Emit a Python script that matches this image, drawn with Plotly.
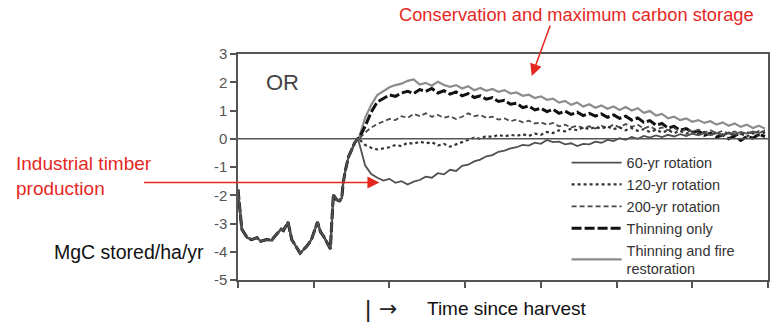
import plotly.graph_objects as go

# ---------------- data ----------------
# shared pre-harvest segment (years since start, MgC/ha/yr)
pre_years = [0, 4, 5, 12, 18, 25, 30, 38, 45, 47, 57, 60, 66, 71, 78, 82, 84, 91, 97,
             103, 105, 109, 113, 120, 122, 124, 126, 130, 134, 137, 139, 142, 146, 150, 154, 158]
pre_vals = [-1.8, -2.75, -3.2, -3.5, -3.57, -3.5, -3.63, -3.57, -3.6, -3.5, -3.2, -3.25, -2.95,
            -3.57, -3.85, -4.05, -4.0, -3.8, -3.57, -3.15, -2.95, -3.3, -3.45, -3.8, -3.9, -2.9,
            -1.98, -2.15, -2.2, -2.1, -1.55, -1.1, -0.63, -0.4, -0.15, 0.0]

post_years = list(range(160, 697, 8))

rot60 = [-0.15, -0.95, -1.25, -1.38, -1.48, -1.42, -1.56, -1.5, -1.62, -1.52, -1.46, -1.34,
         -1.38, -1.22, -1.26, -1.1, -1.14, -0.96, -0.92, -0.8, -0.74, -0.62, -0.58, -0.46,
         -0.42, -0.34, -0.3, -0.22, -0.24, -0.14, -0.18, -0.04, -0.12, -0.1, -0.2, -0.16,
         -0.26, -0.18, -0.2, -0.1, -0.14, -0.04, -0.08, 0.02, -0.04, 0.06, 0.0, 0.1, 0.04,
         0.12, 0.06, 0.14, 0.08, 0.16, 0.1, 0.18, 0.12, 0.2, 0.14, 0.2, 0.12, 0.22, 0.16,
         0.24, 0.18, 0.26, 0.2, 0.3]

rot120 = [-0.02, -0.22, -0.32, -0.38, -0.34, -0.3, -0.22, -0.26, -0.14, -0.18, -0.1, -0.16,
          -0.12, -0.24, -0.18, -0.28, -0.2, -0.12, -0.04, 0.04, 0.0, 0.1, 0.06, 0.14, 0.08,
          0.14, 0.1, 0.16, 0.1, 0.18, 0.14, 0.24, 0.2, 0.3, 0.26, 0.36, 0.3, 0.4, 0.34, 0.42,
          0.36, 0.44, 0.34, 0.4, 0.3, 0.38, 0.28, 0.34, 0.24, 0.32, 0.22, 0.3, 0.2, 0.28,
          0.18, 0.26, 0.16, 0.24, 0.14, 0.22, 0.12, 0.2, 0.1, 0.18, 0.08, 0.2, 0.12, 0.24]

rot200 = [0.0, 0.22, 0.4, 0.52, 0.62, 0.7, 0.66, 0.8, 0.74, 0.88, 0.8, 0.9, 0.78, 0.84,
          0.74, 0.8, 0.7, 0.78, 0.9, 0.8, 0.84, 0.74, 0.78, 0.68, 0.72, 0.62, 0.68, 0.58,
          0.64, 0.54, 0.58, 0.5, 0.56, 0.44, 0.5, 0.4, 0.46, 0.38, 0.44, 0.36, 0.46, 0.38,
          0.5, 0.4, 0.52, 0.42, 0.5, 0.36, 0.44, 0.32, 0.4, 0.3, 0.38, 0.26, 0.34, 0.24,
          0.32, 0.22, 0.3, 0.2, 0.28, 0.18, 0.26, 0.16, 0.24, 0.18, 0.28, 0.22]

thin_only = [0.02, 0.45, 0.95, 1.3, 1.42, 1.55, 1.5, 1.62, 1.68, 1.6, 1.74, 1.68, 1.78,
             1.62, 1.7, 1.58, 1.66, 1.52, 1.6, 1.46, 1.52, 1.4, 1.46, 1.32, 1.36, 1.22,
             1.26, 1.1, 1.16, 1.02, 1.08, 0.96, 1.04, 0.9, 0.98, 0.86, 0.94, 0.82, 0.9, 0.8,
             0.88, 0.76, 0.84, 0.72, 0.8, 0.66, 0.74, 0.58, 0.64, 0.48, 0.54, 0.38, 0.44,
             0.3, 0.36, 0.22, 0.28, 0.12, 0.2, 0.06, 0.14, 0.0, 0.1, -0.06, 0.08, 0.02, 0.16, 0.08]

thin_fire = [0.05, 0.75, 1.2, 1.55, 1.7, 1.82, 1.9, 1.95, 2.05, 2.1, 1.92, 1.98, 1.88,
             2.02, 1.9, 1.84, 1.9, 1.78, 1.86, 1.72, 1.8, 1.7, 1.76, 1.66, 1.72, 1.6, 1.64,
             1.52, 1.56, 1.44, 1.5, 1.38, 1.42, 1.28, 1.34, 1.2, 1.28, 1.14, 1.22, 1.1, 1.18,
             1.06, 1.14, 1.02, 1.12, 1.0, 1.08, 0.92, 0.98, 0.82, 0.88, 0.72, 0.78, 0.66,
             0.72, 0.6, 0.66, 0.56, 0.62, 0.5, 0.58, 0.46, 0.54, 0.42, 0.5, 0.38, 0.46, 0.36]

series_names = ["60-yr rotation", "120-yr rotation", "200-yr rotation",
                "Thinning only", "Thinning and fire<br>restoration"]
y_ticks = [3, 2, 1, 0, -1, -2, -3, -4, -5]
x_ticks = [0, 100, 200, 300, 400, 500, 600, 700]

# ---------------- figure ----------------
RED = "#e5281f"
FONT = "Liberation Sans, Arial, sans-serif"
xs = pre_years + post_years

styles = [
    # (values, name, color, width, dash, rank)
    (thin_fire, series_names[4], "#8c8c8c", 2.2, "solid", 5),
    (thin_only, series_names[3], "#111111", 3.0, "10px,3px", 4),
    (rot200, series_names[2], "#4a4a4a", 1.8, "5px,3px", 3),
    (rot120, series_names[1], "#333333", 2.2, "dot", 2),
    (rot60, series_names[0], "#505050", 1.8, "solid", 1),
]

fig = go.Figure()
for vals, name, color, width, dash, rank in styles:
    fig.add_trace(go.Scatter(
        x=xs, y=pre_vals + vals, mode="lines", name=name, legendrank=rank,
        line=dict(color=color, width=width, dash=dash),
    ))

axis_common = dict(showgrid=False, zeroline=False, showline=True, linecolor="#555555",
                   linewidth=1.5, mirror=True, ticks="outside", tickcolor="#555555",
                   ticklen=6, tickwidth=1.5)
fig.update_xaxes(range=[0, 700], tickvals=x_ticks, showticklabels=False, **axis_common)
fig.update_yaxes(range=[-5, 3], tickvals=y_ticks, ticktext=[str(v) for v in y_ticks],
                 tickfont=dict(family=FONT, size=15, color="#555555"), **axis_common)

# zero reference line
fig.add_hline(y=0, line=dict(color="#555555", width=1.5))

fig.update_layout(
    width=777, height=324,
    margin=dict(l=238, r=7, t=54, b=44),
    paper_bgcolor="white", plot_bgcolor="white",
    font=dict(family=FONT),
    showlegend=True,
    legend=dict(x=0.62, y=0.59, xanchor="left", yanchor="top",
                bgcolor="rgba(255,255,255,0)", borderwidth=0,
                font=dict(family=FONT, size=14.5, color="#333333"),
                itemwidth=50, tracegroupgap=0),
    annotations=[
        dict(text="OR", xref="paper", yref="paper", x=0.0846, y=0.8717,
             xanchor="center", yanchor="middle", showarrow=False,
             font=dict(family=FONT, size=22, color="#444444")),
        dict(text="Conservation and maximum carbon storage", xref="paper", yref="paper",
             x=0.2995, y=1.1726, xanchor="left", yanchor="middle", showarrow=False,
             font=dict(family=FONT, size=18.3, color=RED)),
        dict(text="", x=388, y=2.22, xref="x", yref="y", showarrow=True,
             ax=19, ay=-52, arrowhead=2, arrowsize=1.6, arrowwidth=1.5, arrowcolor=RED),
        dict(text="Industrial timber<br>production", xref="paper", yref="paper",
             x=-0.4229, y=0.458, xanchor="left", yanchor="middle", align="left",
             showarrow=False, font=dict(family=FONT, size=19, color=RED)),
        dict(text="", x=186.8, y=-1.553, xref="x", yref="y", showarrow=True,
             ax=-237, ay=0, arrowhead=2, arrowsize=1.6, arrowwidth=1.5, arrowcolor=RED),
        dict(text="MgC stored/ha/yr", xref="paper", yref="paper", x=-0.3515, y=0.1239,
             xanchor="left", yanchor="middle", showarrow=False,
             font=dict(family=FONT, size=19.5, color="#111111")),
        dict(text="|", xref="paper", yref="paper", x=(368 - 238) / 532, y=-0.124,
             xanchor="center", yanchor="middle", showarrow=False,
             font=dict(family=FONT, size=24, color="#222222")),
        dict(text="→", xref="paper", yref="paper", x=(389 - 238) / 532, y=-0.124,
             xanchor="center", yanchor="middle", showarrow=False,
             font=dict(family="DejaVu Sans, sans-serif", size=22, color="#222222")),
        dict(text="Time since harvest", xref="paper", yref="paper", x=(426 - 238) / 532,
             y=-0.124, xanchor="left", yanchor="middle", showarrow=False,
             font=dict(family=FONT, size=19, color="#111111")),
    ],
)

fig.write_html("out.html", config={"displayModeBar": False},
               post_script="document.body.style.margin='0px';")
